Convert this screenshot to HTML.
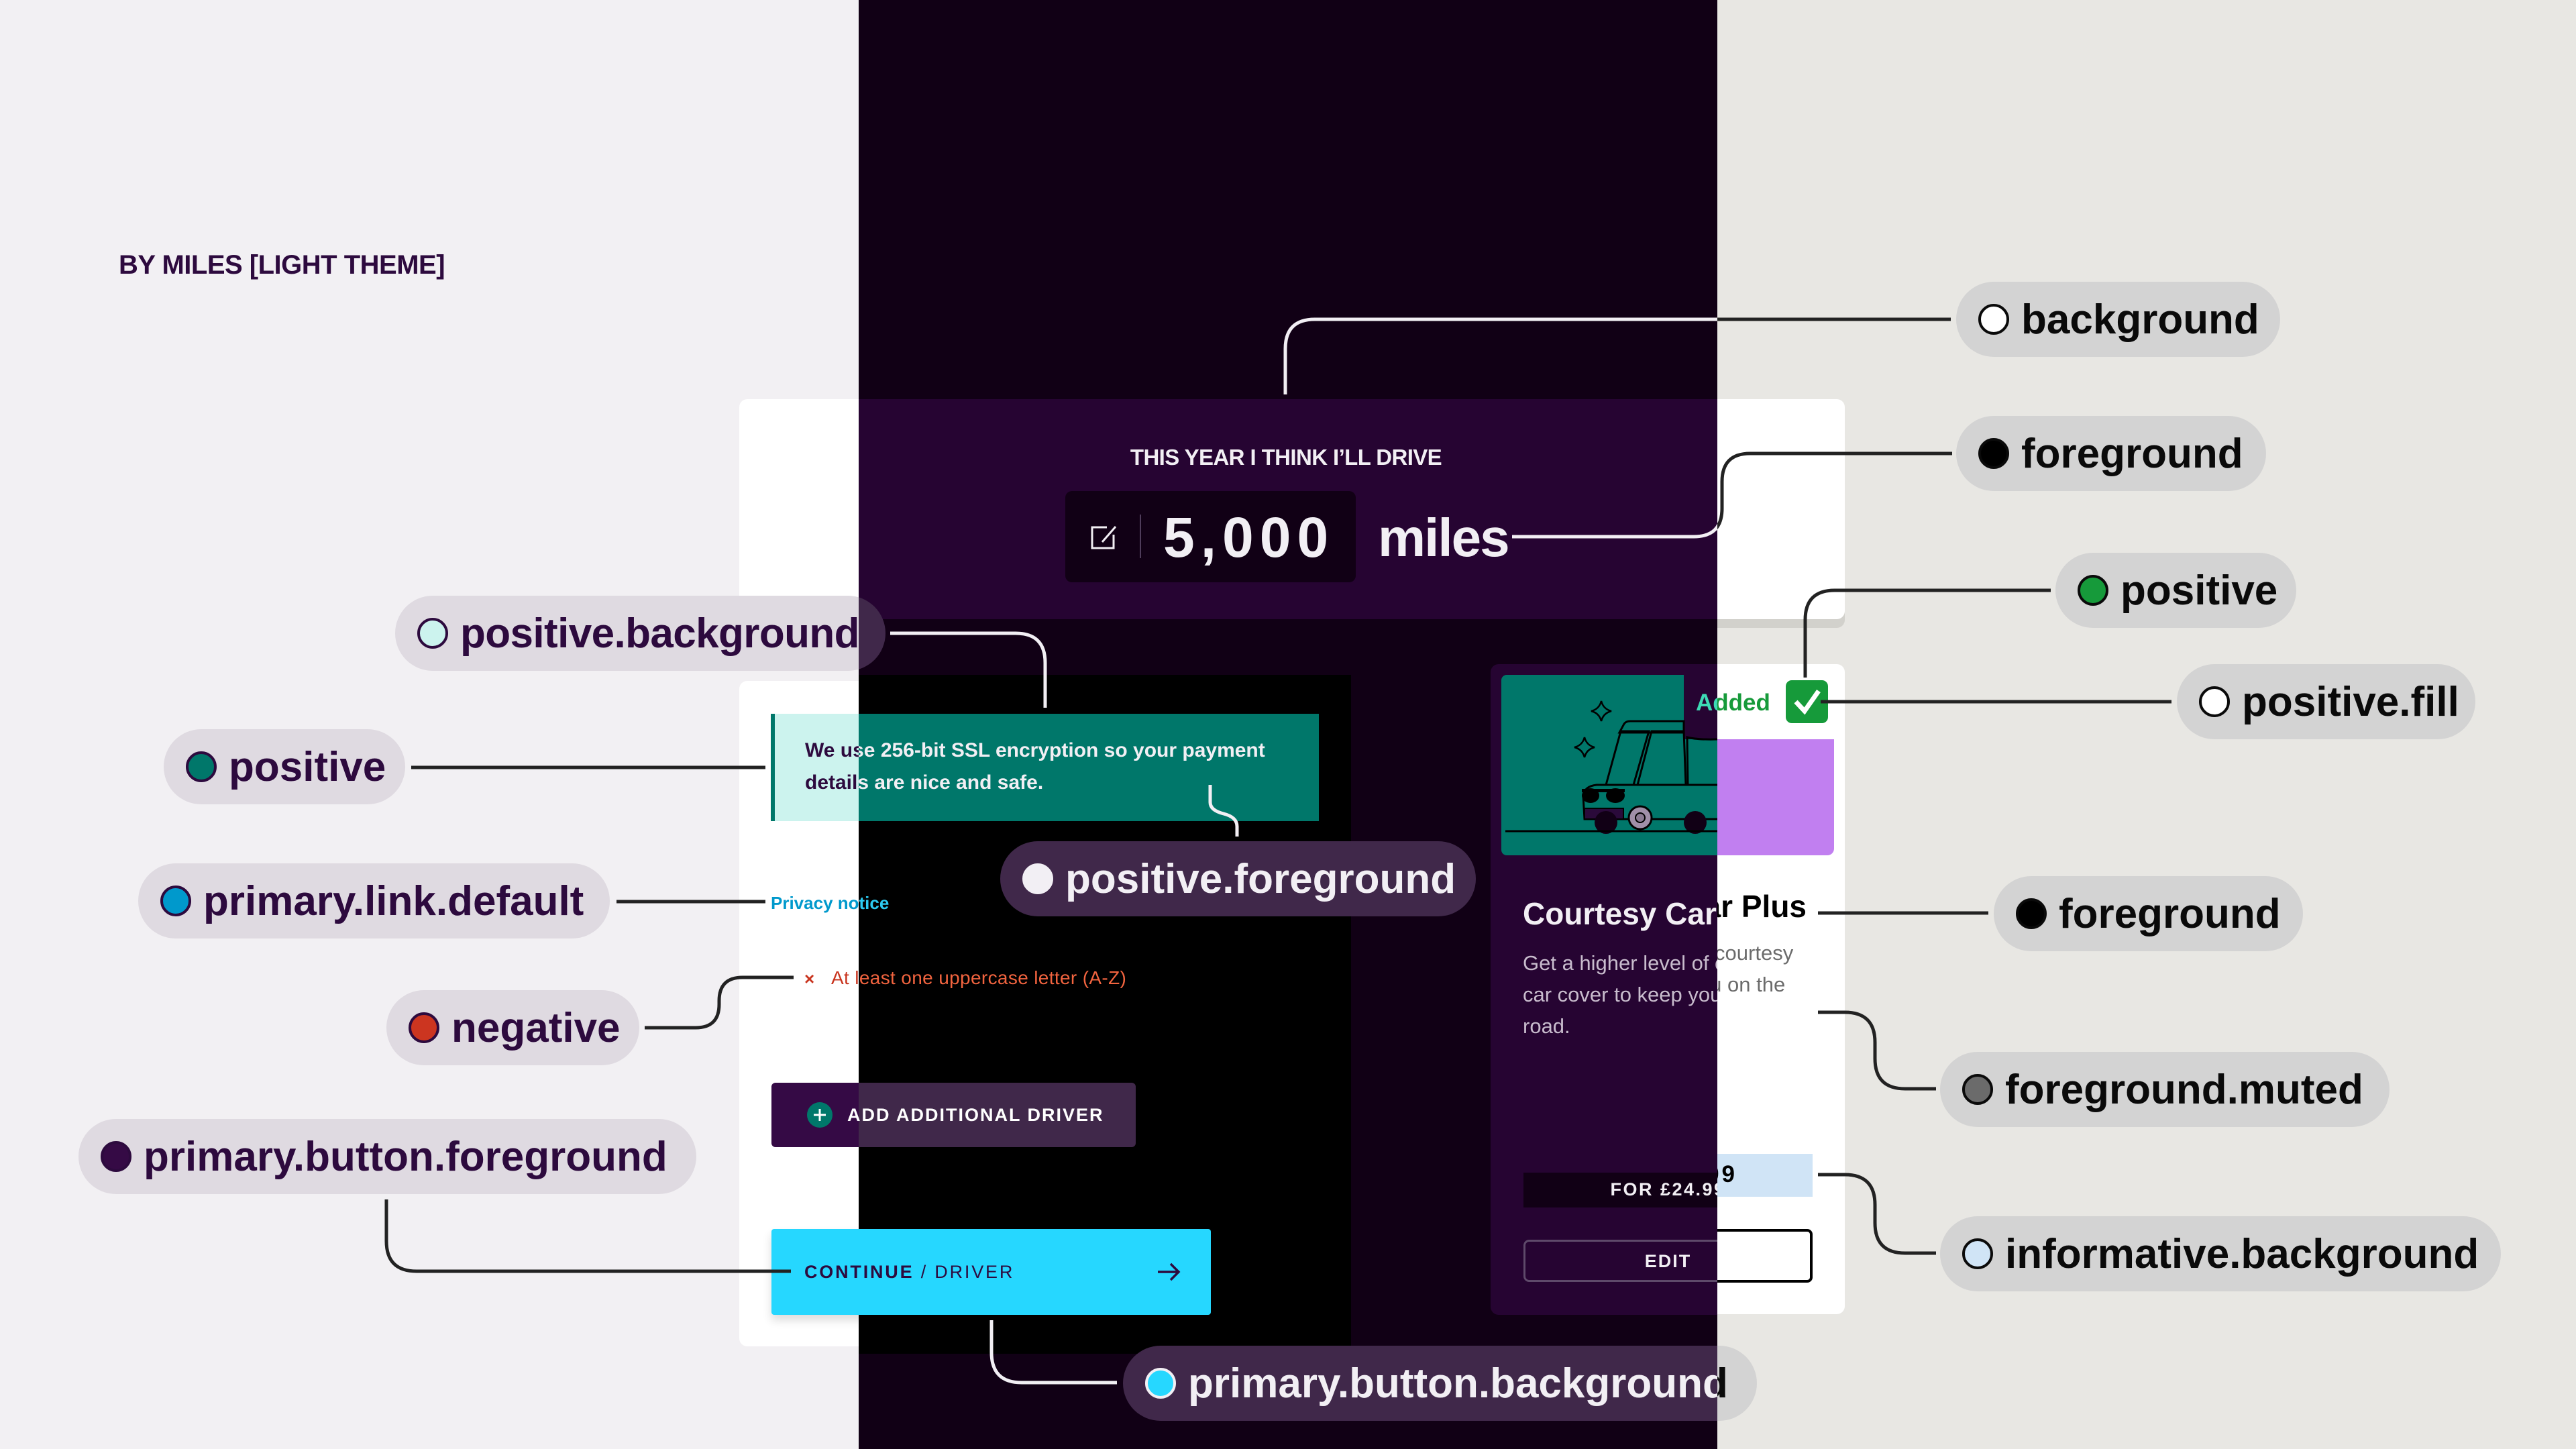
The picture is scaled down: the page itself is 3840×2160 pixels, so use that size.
<!DOCTYPE html>
<html><head><meta charset="utf-8">
<style>
html,body{margin:0;padding:0}
body{width:3840px;height:2160px;position:relative;overflow:hidden;font-family:"Liberation Sans",Arial,sans-serif}
.zone{position:absolute;top:0;width:1280px;height:2160px;overflow:hidden}
.inner{position:absolute;top:0;width:3840px;height:2160px}
.a{position:absolute}
.t{position:absolute;white-space:nowrap;line-height:1;font-family:"Liberation Sans",Arial,sans-serif}
.pill{position:absolute;height:112px;border-radius:56px;display:flex;align-items:center;box-sizing:border-box;padding-left:33px;font-weight:bold;font-size:62px;font-family:"Liberation Sans",Arial,sans-serif;white-space:nowrap}
.pill i{display:block;width:46px;height:46px;border-radius:50%;box-sizing:border-box;border:4px solid;margin-right:18px;flex:none}
.L .pill{background:#dfdae1;color:#2d0a3e}
.L .pill i{border-color:#2d0a3e}
.D .pill{background:#40284a;color:#f2eff4}
.D .pill i{border-color:#f2eff4}
.R .pill{background:#d3d3d3;color:#0a0a0a}
.R .pill i{border-color:#0a0a0a}
svg.ln{position:absolute;left:0;top:0}
svg.ln path{fill:none;stroke-width:5}
</style></head>
<body>

<!-- ================= LEFT (light, purple tint) ================= -->
<div class="zone L" style="left:0;background:#f2f0f3">
<div class="inner" style="left:0">
  <div class="t" style="left:177px;top:375px;font-weight:bold;font-size:40px;letter-spacing:-0.5px;color:#2d0a3e">BY MILES [LIGHT THEME]</div>

  <div class="a" style="left:1102px;top:600px;width:1648px;height:336px;background:#dcd9de;border-radius:12px"></div>
  <div class="a" style="left:1102px;top:595px;width:1648px;height:328px;background:#fff;border-radius:12px"></div>
  <div class="a" style="left:1102px;top:1015px;width:1648px;height:992px;background:#fff;border-radius:12px"></div>

  <div class="a" style="left:1149px;top:1064px;width:817px;height:160px;background:#ccf3ee;border-left:6px solid #00776a;box-sizing:border-box"></div>
  <div class="t" style="left:1200px;top:1095px;font-weight:bold;font-size:30px;line-height:48px;color:#2d0a3e">We use 256-bit SSL encryption so your payment<br>details are nice and safe.</div>

  <div class="t" style="left:1149px;top:1333px;font-weight:bold;font-size:26px;color:#0099cc">Privacy notice</div>
  <div class="t" style="left:1199px;top:1446px;font-weight:bold;font-size:26px;color:#c9351f">×</div>
  <div class="t" style="left:1239px;top:1444px;font-size:28px;letter-spacing:0.35px;color:#c9351f">At least one uppercase letter (A-Z)</div>

  <div class="a" style="left:1150px;top:1614px;width:543px;height:96px;background:#350a45;border-radius:6px"></div>
  <div class="t" style="left:1263px;top:1649px;font-weight:bold;font-size:27px;letter-spacing:2px;color:#fff">ADD ADDITIONAL DRIVER</div>

  <div class="a" style="left:1150px;top:1832px;width:655px;height:128px;background:#26d7ff;border-radius:4px;box-shadow:0 8px 14px rgba(0,0,0,0.14)"></div>
  <div class="t" style="left:1199px;top:1883px;font-size:27px;letter-spacing:2.8px;color:#2d0a3e"><b>CONTINUE</b> / DRIVER</div>

  <svg class="ln" width="3840" height="2160">
    <circle cx="1222" cy="1662" r="19" fill="#00776a"/>
    <path d="M1222 1653 V1671 M1213 1662 H1231" stroke="#fff" style="stroke-width:3"/>
    <path d="M613 1144 H1141" stroke="#222"/>
    <path d="M919 1344 H1141" stroke="#222"/>
    <path d="M961 1532 H1037 Q1072 1532 1072 1497 V1492 Q1072 1457 1107 1457 H1183" stroke="#222"/>
    <path d="M576 1788 V1850 Q576 1895 621 1895 H1179" stroke="#222"/>
  </svg>

  <div class="pill" style="left:589px;top:888px;width:731px;letter-spacing:-0.6px"><i style="background:#ccf3ee"></i>positive.background</div>
  <div class="pill" style="left:244px;top:1087px;width:360px"><i style="background:#00776a"></i>positive</div>
  <div class="pill" style="left:206px;top:1287px;width:703px"><i style="background:#0099cc"></i>primary.link.default</div>
  <div class="pill" style="left:576px;top:1476px;width:377px"><i style="background:#cc3520"></i>negative</div>
  <div class="pill" style="left:117px;top:1668px;width:921px"><i style="background:#350a45"></i>primary.button.foreground</div>
</div>
</div>

<!-- ================= MIDDLE (dark) ================= -->
<div class="zone D" style="left:1280px;background:#110015">
<div class="inner" style="left:-1280px">
  <div class="a" style="left:1102px;top:595px;width:1648px;height:328px;background:#260432;border-radius:12px 12px 0 0"></div>
  <div class="a" style="left:1102px;top:1006px;width:912px;height:1012px;background:#000"></div>

  <div class="t" style="left:1417px;top:665px;width:1000px;text-align:center;font-weight:bold;font-size:33px;letter-spacing:-0.6px;color:#f2eff4">THIS YEAR I THINK I’LL DRIVE</div>
  <div class="a" style="left:1588px;top:732px;width:433px;height:136px;background:#110015;border-radius:10px"></div>
  <div class="t" style="left:1734px;top:759px;font-weight:bold;font-size:84px;letter-spacing:9px;color:#f2eff4">5,000</div>
  <div class="t" style="left:2054px;top:762px;font-weight:bold;font-size:80px;letter-spacing:-2px;color:#f2eff4">miles</div>

  <div class="a" style="left:1149px;top:1064px;width:817px;height:160px;background:#00776a"></div>
  <div class="t" style="left:1200px;top:1095px;font-weight:bold;font-size:30px;line-height:48px;color:#f2eff4">We use 256-bit SSL encryption so your payment<br>details are nice and safe.</div>

  <div class="t" style="left:1149px;top:1333px;font-weight:bold;font-size:26px;color:#2ccbf2">Privacy notice</div>
  <div class="t" style="left:1239px;top:1444px;font-size:28px;letter-spacing:0.35px;color:#f2643f">At least one uppercase letter (A-Z)</div>

  <div class="a" style="left:1150px;top:1614px;width:543px;height:96px;background:#40284a;border-radius:6px"></div>
  <div class="t" style="left:1263px;top:1649px;font-weight:bold;font-size:27px;letter-spacing:2px;color:#fff">ADD ADDITIONAL DRIVER</div>

  <div class="a" style="left:1150px;top:1832px;width:655px;height:128px;background:#26d7ff;border-radius:4px"></div>
  <div class="t" style="left:1199px;top:1883px;font-size:27px;letter-spacing:2.8px;color:#2d0a3e"><b>CONTINUE</b> / DRIVER</div>

  <!-- product card dark -->
  <div class="a" style="left:2222px;top:990px;width:527px;height:970px;background:#260432;border-radius:12px"></div>

  <svg class="ln" width="3840" height="2160">
    <!-- edit icon -->
    <path d="M1650 786 H1628 V817 H1660 V797" stroke="#f2eff4" style="stroke-width:3"/>
    <path d="M1643 808 L1663 785" stroke="#f2eff4" style="stroke-width:3"/>
    <path d="M1700 767 V832" stroke="#4e3c5a" style="stroke-width:2"/>
    <!-- continue arrow -->
    <path d="M1726 1896 H1757 M1745 1884 L1757 1896 L1745 1908" stroke="#2d0a3e" style="stroke-width:3.5"/>
    <!-- car image -->
    <rect x="2238" y="1006" width="340" height="269" rx="8" fill="#00776a"/>
    <rect x="2510" y="1006" width="60" height="96" fill="#260432"/>
    <path d="M2414 1092 L2421 1079 Q2424 1075 2430 1075 L2510 1075 L2510 1092 Z" fill="#3dbb9b" stroke="#000" style="stroke-width:3"/>
    <path d="M2394 1170 L2416 1090 L2458 1090 L2435 1170 Z" fill="#e6f6f4" stroke="#000" style="stroke-width:3"/>
    <path d="M2441 1170 L2462 1090 L2510 1090 L2513 1170 Z" fill="#e6f6f4" stroke="#000" style="stroke-width:3"/>
    <path d="M2515 1099 Q2530 1103 2562 1102 L2562 1170 L2516 1170 Z" fill="#e6f6f4" stroke="#000" style="stroke-width:3"/>
    <path d="M2362 1221 L2360 1186 Q2362 1172 2380 1170 L2562 1170 L2562 1221 Z" fill="#3dbb9b" stroke="#000" style="stroke-width:3"/>
    <rect x="2358" y="1176" width="64" height="5" fill="#000"/>
    <ellipse cx="2371" cy="1186" rx="13" ry="11" fill="#000"/>
    <ellipse cx="2408" cy="1186" rx="14" ry="11" fill="#000"/>
    <rect x="2362" y="1205" width="58" height="16" fill="#2a0a3a" stroke="#000" style="stroke-width:2"/>
    <circle cx="2394" cy="1226" r="17" fill="#110015"/>
    <circle cx="2527" cy="1226" r="17" fill="#110015"/>
    <circle cx="2445" cy="1219" r="17" fill="#a08fa8" stroke="#000" style="stroke-width:3"/>
    <circle cx="2445" cy="1219" r="7" fill="#8a7a92" stroke="#000" style="stroke-width:2"/>
    <path d="M2244 1239 H2562" stroke="#000" style="stroke-width:3"/>
    <path d="M2387 1045 Q2390 1057 2402 1060 Q2390 1063 2387 1075 Q2384 1063 2372 1060 Q2384 1057 2387 1045 Z" fill="#f5b82e" stroke="#000" style="stroke-width:2.5"/>
    <path d="M2362 1099 Q2365 1111 2377 1114 Q2365 1117 2362 1129 Q2359 1117 2347 1114 Q2359 1111 2362 1099 Z" fill="#f5b82e" stroke="#000" style="stroke-width:2.5"/>
    <!-- price / edit -->
    <rect x="2271" y="1748" width="431" height="52" fill="#110015"/>
    <rect x="2272.5" y="1849.5" width="428" height="60" rx="7" fill="none" stroke="#5e4a6a" style="stroke-width:3"/>
    <!-- connectors -->
    <path d="M1327 944 H1514 Q1558 944 1558 988 V1055" stroke="#f2eff4"/>
    <path d="M1804 1170 V1196 Q1804 1208 1824 1213 Q1844 1218 1844 1232 V1247" stroke="#f2eff4"/>
    <path d="M1478 1968 V2016 Q1478 2061 1523 2061 H1665" stroke="#f2eff4"/>
    <path d="M1916 588 V520 Q1916 476 1960 476 H2908" stroke="#f2eff4"/>
    <path d="M2254 800 H2525 Q2567 800 2567 758 V718 Q2567 676 2609 676 H2910" stroke="#f2eff4"/>
  </svg>

  <div class="t" style="left:2528px;top:1030px;font-weight:bold;font-size:35px;color:#3ddbb5">Added</div>
  <div class="t" style="left:2270px;top:1339px;font-weight:bold;font-size:46px;color:#f2eff4">Courtesy Car Plus</div>
  <div class="t" style="left:2270px;top:1412px;font-size:31px;line-height:47px;color:#c8bccd">Get a higher level of courtesy<br>car cover to keep you on the<br>road.</div>
  <div class="t" style="left:2271px;top:1760px;width:431px;text-align:center;font-weight:bold;font-size:27px;letter-spacing:2.5px;color:#f2eff4">FOR £24.99</div>
  <div class="t" style="left:2271px;top:1867px;width:431px;text-align:center;font-weight:bold;font-size:27px;letter-spacing:2px;color:#f2eff4">EDIT</div>

  <div class="pill" style="left:589px;top:888px;width:731px;letter-spacing:-0.6px"><i style="background:#ccf3ee"></i><span style="color:#2d0a3e">positive.background</span></div>
  <div class="pill" style="left:1491px;top:1254px;width:709px"><i style="background:#f2eff4"></i>positive.foreground</div>
  <div class="pill" style="left:1674px;top:2006px;width:945px"><i style="background:#26d7ff"></i>primary.button.background</div>
</div>
</div>

<!-- ================= RIGHT (light, neutral) ================= -->
<div class="zone R" style="left:2560px;background:#e8e7e3">
<div class="inner" style="left:-2560px">
  <div class="a" style="left:1102px;top:600px;width:1648px;height:336px;background:#d2d1cc;border-radius:12px"></div>
  <div class="a" style="left:1102px;top:595px;width:1648px;height:328px;background:#fff;border-radius:12px"></div>

  <div class="a" style="left:2222px;top:990px;width:528px;height:969px;background:#fff;border-radius:12px"></div>
  <div class="a" style="left:2238px;top:1102px;width:496px;height:173px;background:#c17ff0;border-radius:0 0 10px 10px"></div>
  <div class="a" style="left:2271px;top:1720px;width:431px;height:64px;background:#d0e4f6"></div>
  <div class="a" style="left:2271px;top:1832px;width:431px;height:80px;border:4px solid #000;border-radius:8px;box-sizing:border-box"></div>
  <div class="a" style="left:2662px;top:1014px;width:63px;height:64px;background:#169a3a;border-radius:9px"></div>

  <svg class="ln" width="3840" height="2160">
    <path d="M2560 1102 Q2588 1125 2592 1166 Q2575 1160 2560 1160 Z" fill="#000"/>
    <path d="M2677 1046 L2690 1060 L2711 1030" stroke="#fff" style="stroke-width:7"/>
    <path d="M1916 588 V520 Q1916 476 1960 476 H2908" stroke="#222"/>
    <path d="M2254 800 H2525 Q2567 800 2567 758 V718 Q2567 676 2609 676 H2910" stroke="#222"/>
    <path d="M3057 880 H2735 Q2691 880 2691 924 V1010" stroke="#222"/>
    <path d="M2714 1046 H3237" stroke="#222"/>
    <path d="M2710 1361 H2964" stroke="#222"/>
    <path d="M2710 1509 H2750 Q2795 1509 2795 1554 V1578 Q2795 1623 2840 1623 H2886" stroke="#222"/>
    <path d="M2710 1751 H2750 Q2795 1751 2795 1796 V1823 Q2795 1868 2840 1868 H2886" stroke="#222"/>
  </svg>

  <div class="t" style="left:2530px;top:1030px;font-weight:bold;font-size:35px;color:#169a3a">Added</div>
  <div class="t" style="right:1147px;top:1328px;font-weight:bold;font-size:46px;color:#000">Courtesy Car Plus</div>
  <div class="t" style="left:2270px;top:1397px;font-size:31px;line-height:47px;color:#6b6b6b">Get a higher level of courtesy<br>car cover to keep you on the<br>road.</div>
  <div class="t" style="right:1250px;top:1733px;font-weight:bold;font-size:35px;letter-spacing:4px;color:#000">FOR £24.99</div>

  <div class="pill" style="left:2916px;top:420px;width:483px"><i style="background:#fff"></i>background</div>
  <div class="pill" style="left:2916px;top:620px;width:462px"><i style="background:#000"></i>foreground</div>
  <div class="pill" style="left:3064px;top:824px;width:359px"><i style="background:#169a3a"></i>positive</div>
  <div class="pill" style="left:3245px;top:990px;width:445px"><i style="background:#fff"></i>positive.fill</div>
  <div class="pill" style="left:2972px;top:1306px;width:461px"><i style="background:#000"></i>foreground</div>
  <div class="pill" style="left:2892px;top:1568px;width:670px"><i style="background:#6b6b6b"></i>foreground.muted</div>
  <div class="pill" style="left:2892px;top:1813px;width:836px"><i style="background:#d0e4f6"></i>informative.background</div>
  <div class="pill" style="left:1674px;top:2006px;width:945px"><i style="background:#26d7ff"></i>primary.button.background</div>
</div>
</div>

</body></html>
